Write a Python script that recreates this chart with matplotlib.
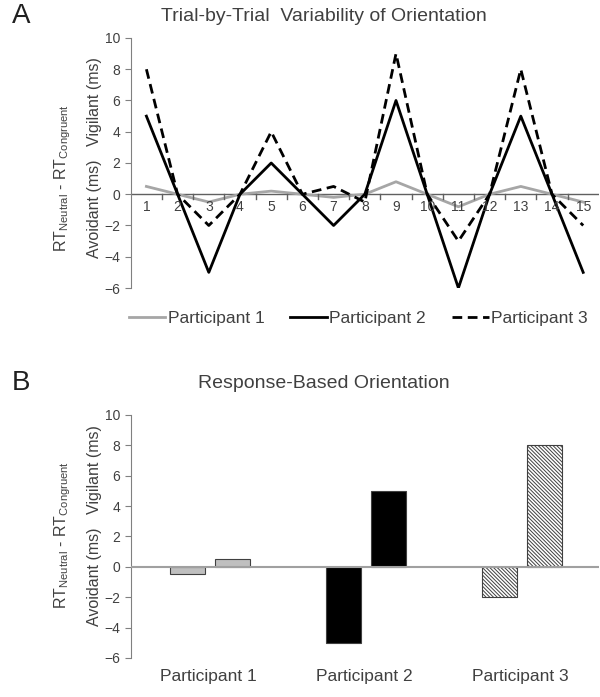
import numpy as np
import matplotlib
matplotlib.use("Agg")
from matplotlib import pyplot as plt

plt.rcParams['font.family'] = ['Liberation Sans', 'DejaVu Sans']
plt.rcParams['hatch.color'] = '#404040'
plt.rcParams['hatch.linewidth'] = 0.7

# data
trials = list(range(1, 16))
p1 = [0.5, 0, -0.5, 0, 0.2, 0, -0.2, 0, 0.8, 0, -0.8, 0, 0.5, 0, -0.5]
p2 = [5, 0, -5, 0, 2, 0, -2, 0, 6, 0, -6, 0, 5, 0, -5]
p3 = [8, 0, -2, 0, 4, 0, 0.5, -0.5, 9, 0, -3, 0, 8, 0, -2]
participants = ['Participant 1', 'Participant 2', 'Participant 3']
avoidant = [-0.5, -5, -2]
vigilant = [0.5, 5, 8]
yticks = [-6, -4, -2, 0, 2, 4, 6, 8, 10]

txt = '#404040'
fig = plt.figure(figsize=(6, 6.97), dpi=100)

def style_y(ax):
    for s in ['top', 'right', 'bottom']:
        ax.spines[s].set_visible(False)
    ax.spines['left'].set_color('#808080')
    ax.set_ylim(-6, 10)
    ax.set_yticks(yticks)
    ax.tick_params(axis='y', colors='#808080', labelcolor=txt, labelsize=10, length=4)

def ylabels(y_rt, y_av):
    # two-line y label, placed in figure coords
    fig.text(0.105, y_rt, r'RT$_{\mathregular{Neutral}}$ - RT$_{\mathregular{Congruent}}$',
             rotation=90, ha='center', va='center', fontsize=11.5, color=txt)
    fig.text(0.158, y_av, 'Avoidant (ms)   Vigilant (ms)', rotation=90, ha='center',
             va='center', fontsize=11.5, color=txt)

# Panel A
ax1 = fig.add_axes([0.218, 0.5868, 0.78, 0.3587])
style_y(ax1)
ax1.set_xlim(0.5, 15.5)
ax1.axhline(0, color='#606060', lw=1)
ax1.plot(trials, p1, color='#a6a6a6', lw=2, label=participants[0])
ax1.plot(trials, p2, color='black', lw=2, label=participants[1])
ax1.plot(trials, p3, color='black', lw=2, ls=(0, (3.5, 2)), label=participants[2])
ax1.set_xticks([])
for t in trials:
    ax1.text(t, -0.4, str(t), ha='center', va='top', fontsize=10, color=txt)
for t in np.arange(1.5, 15.5, 1):
    ax1.plot([t, t], [0, -0.3], color='#606060', lw=1)
fig.legend(loc='center', bbox_to_anchor=(0.597, 0.543), ncol=3, frameon=False,
           fontsize=12.5, handlelength=2.1, handletextpad=0.15, columnspacing=1.5,
           labelcolor=txt)
fig.text(0.54, 0.977, 'Trial-by-Trial  Variability of Orientation', ha='center', va='center',
         fontsize=14, color=txt)
fig.text(0.02, 0.977, 'A', ha='left', va='center', fontsize=20, color='#202020')
ylabels(0.7446, 0.7733)

# Panel B
ax2 = fig.add_axes([0.218, 0.056, 0.78, 0.3487])
style_y(ax2)
ax2.set_xlim(0.5, 3.5)
ax2.axhline(0, color='#a0a0a0', lw=1.5, zorder=3)
x = np.arange(1, 4)
w = 0.225
fills = ['#bfbfbf', 'black', 'white']
hatches = [None, None, '\\' * 9]
for i in range(3):
    ax2.bar(x[i] - 0.135, avoidant[i], w, color=fills[i], edgecolor='#404040',
            hatch=hatches[i], lw=0.8)
    ax2.bar(x[i] + 0.15, vigilant[i], w, color=fills[i], edgecolor='#404040',
            hatch=hatches[i], lw=0.8)
ax2.set_xticks(x)
ax2.set_xticklabels(participants, fontsize=12.5, color=txt)
ax2.tick_params(axis='x', length=0, pad=8)
ax2.spines['bottom'].set_visible(False)
fig.text(0.54, 0.45, 'Response-Based Orientation', ha='center', va='center',
         fontsize=14, color=txt)
fig.text(0.02, 0.45, 'B', ha='left', va='center', fontsize=20, color='#202020')
ylabels(0.2324, 0.2453)

fig.savefig('out.png', dpi=100)
